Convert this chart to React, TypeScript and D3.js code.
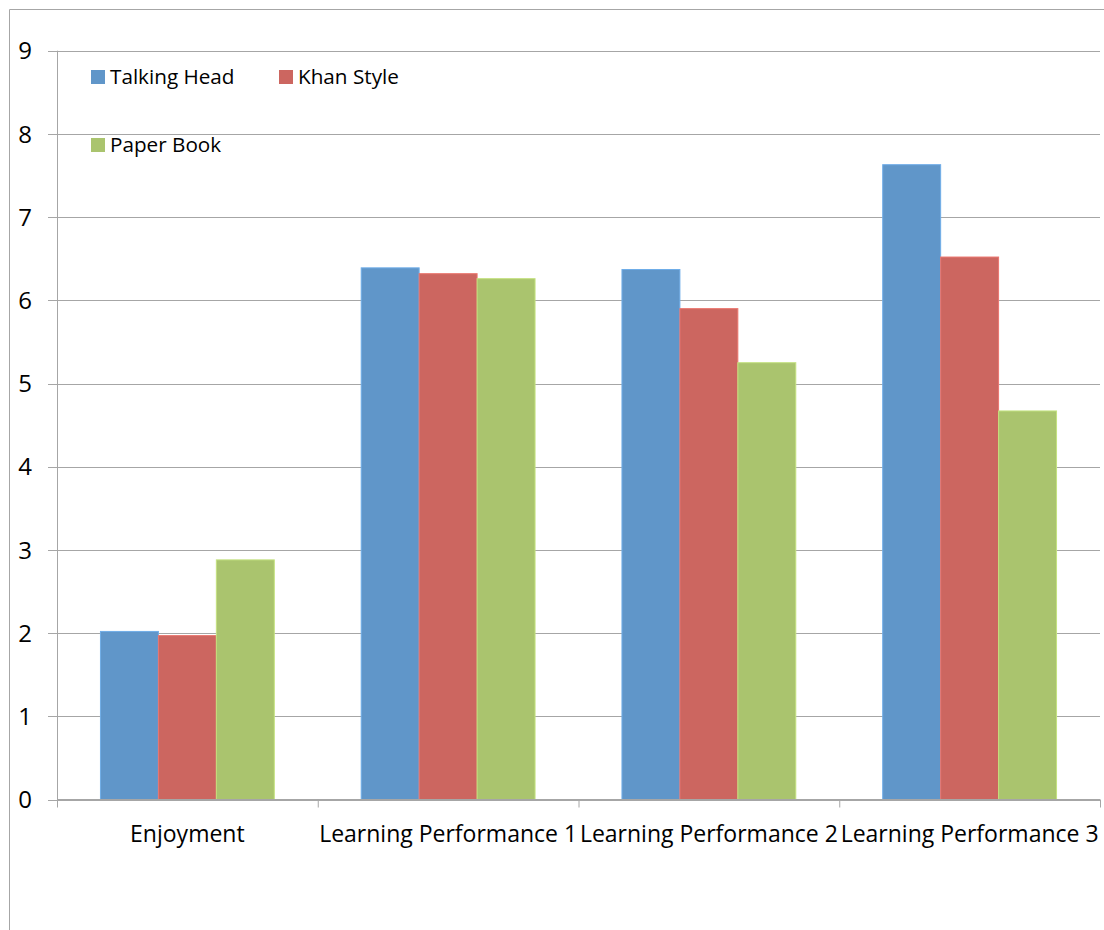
import React from "react";
import * as d3 from "d3";

const categories = ["Enjoyment", "Learning Performance 1", "Learning Performance 2", "Learning Performance 3"];
const seriesNames = ["Talking Head", "Khan Style", "Paper Book"];
const talkingHead = [2.02, 6.39, 6.37, 7.63];
const khanStyle = [1.97, 6.32, 5.9, 6.52];
const paperBook = [2.88, 6.26, 5.25, 4.67];
const yTicks = [0, 1, 2, 3, 4, 5, 6, 7, 8, 9];
const colors = ["#6096c9", "#cc6660", "#aac46e"];

const W = 1104;
const H = 930;
const FONT = "'Open Sans', sans-serif";

export default function App() {
  const values = [talkingHead, khanStyle, paperBook];
  const left = 57;
  const right = 1100;
  const top = 50.7;
  const bottom = 799.5;

  const x = d3.scaleBand<string>().domain(categories).range([left, right]).paddingInner(0).paddingOuter(0);
  const xInner = d3
    .scaleBand<string>()
    .domain(seriesNames)
    .range([0, x.bandwidth()])
    .paddingInner(0)
    .paddingOuter(0.75);
  const y = d3.scaleLinear().domain([0, 9]).range([bottom, top]);

  const catEdges = categories.map((c) => x(c) as number).concat([right]);

  const legend = [
    { name: seriesNames[0], color: colors[0], lx: 91, ly: 70 },
    { name: seriesNames[1], color: colors[1], lx: 279, ly: 70 },
    { name: seriesNames[2], color: colors[2], lx: 91, ly: 138 },
  ];

  return (
    <svg width={W} height={H} style={{ position: "absolute", left: 0, top: 0, background: "#fff" }}>
      {/* outer frame */}
      <line x1={9.5} x2={W} y1={9.5} y2={9.5} stroke="#a6a6a6" strokeWidth={1} />
      <line x1={9.5} x2={9.5} y1={9.5} y2={H} stroke="#a6a6a6" strokeWidth={1} />

      {/* gridlines and y ticks */}
      {yTicks.map((t) => (
        <g key={t}>
          <line x1={48} x2={right} y1={Math.round(y(t)) + 0.5} y2={Math.round(y(t)) + 0.5} stroke="#a6a6a6" strokeWidth={1} />
          <text
            x={32}
            y={y(t)}
            dy="0.36em"
            textAnchor="end"
            fontFamily={FONT}
            fontSize={24}
            fill="#000"
          >
            {t}
          </text>
        </g>
      ))}

      {/* bars */}
      {values.map((vals, si) =>
        vals.map((v, ci) => (
          <rect
            key={`${si}-${ci}`}
            x={(x(categories[ci]) as number) + (xInner(seriesNames[si]) as number)}
            y={y(v)}
            width={xInner.bandwidth()}
            height={bottom - y(v)}
            fill={colors[si]}
            stroke={d3.color(colors[si])!.brighter(0.4).toString()}
            strokeWidth={1}
          />
        ))
      )}

      {/* axes */}
      <line x1={left + 0.5} x2={left + 0.5} y1={top} y2={bottom} stroke="#a6a6a6" strokeWidth={1} />
      <line x1={left} x2={right} y1={Math.round(bottom) - 0.5} y2={Math.round(bottom) - 0.5} stroke="#a6a6a6" strokeWidth={1} />
      {catEdges.map((e, i) => (
        <line key={i} x1={e + 0.5} x2={e + 0.5} y1={bottom} y2={bottom + 8} stroke="#a6a6a6" strokeWidth={1} />
      ))}
      {categories.map((c) => (
        <text
          key={c}
          x={(x(c) as number) + x.bandwidth() / 2}
          y={842}
          textAnchor="middle"
          fontFamily={FONT}
          fontSize={23}
          fill="#000"
        >
          {c}
        </text>
      ))}

      {/* legend */}
      {legend.map((l) => (
        <g key={l.name}>
          <rect x={l.lx} y={l.ly} width={14} height={14} fill={l.color} />
          <text x={l.lx + 19} y={l.ly + 7} dy="0.36em" fontFamily={FONT} fontSize={20.7} fill="#000">
            {l.name}
          </text>
        </g>
      ))}
    </svg>
  );
}
